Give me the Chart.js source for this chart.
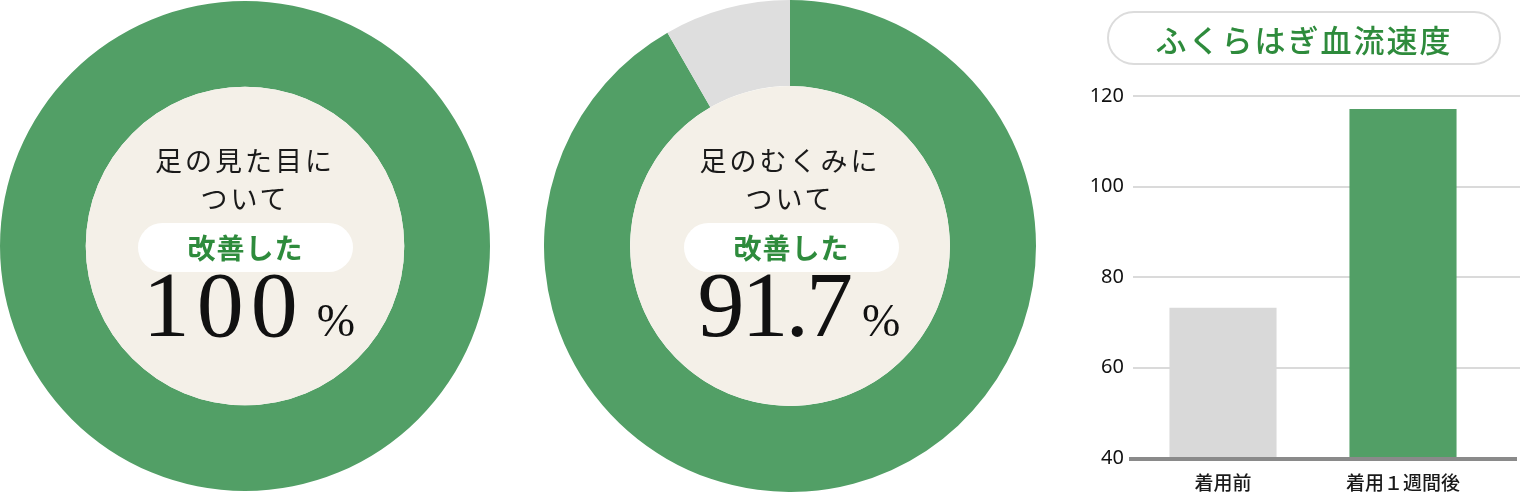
<!DOCTYPE html>
<html lang="ja">
<head>
  <meta charset="UTF-8">
  <title>改善データ</title>
  <script src="https://cdn.jsdelivr.net/npm/chart.js"></script>
  <style>
    html, body { margin: 0; padding: 0; background: #fff; }
    body { position: relative; width: 1520px; height: 493px; overflow: hidden; }
    canvas { position: absolute; }
    .center { position: absolute; text-align: center; color: #1a1a1a; }
    .line { position: absolute; left: 0; right: 0; font-family: "Noto Sans CJK JP", sans-serif; font-weight: 400; font-size: 27px; letter-spacing: 3px; line-height: 30px; }
    .pill { position: absolute; background: #fff; border-radius: 25px; height: 49px; width: 215px; line-height: 49px;
            color: #2e8b3c; font-family: "Noto Sans CJK JP", sans-serif; font-weight: 700; font-size: 28px; letter-spacing: 1px; }
    .num { position: absolute; left: 0; right: 0; font-family: "Liberation Serif", serif; white-space: nowrap; color: #111; }
    .num .big { font-size: 94px; }
    .num .pct { font-size: 46px; margin-left: 12px; }
    #title { position: absolute; left: 1107px; top: 11px; width: 390px; height: 50px; border: 2px solid #dcdcdc; border-radius: 27px;
             text-align: center; line-height: 52px; color: #2e8b3c; font-family: "Noto Sans CJK JP", sans-serif; font-weight: 500; font-size: 31px; letter-spacing: 2px; }
  </style>
</head>
<body>
  <canvas id="donut1" width="490" height="492" style="left:0;top:0"></canvas>
  <canvas id="donut2" width="492" height="492" style="left:544px;top:0"></canvas>
  <canvas id="bars" width="440" height="493" style="left:1080px;top:0"></canvas>

  <div class="center" style="left:0;top:0;width:490px;height:492px">
    <div class="line" style="top:145px">足の見た目に</div>
    <div class="line" style="top:183px">ついて</div>
    <div class="pill" style="left:138px;top:223px">改善した</div>
    <div class="num" style="top:250px;left:8px"><span class="big" style="letter-spacing:7px">100</span><span class="pct">%</span></div>
  </div>
  <div class="center" style="left:544px;top:0;width:492px;height:492px">
    <div class="line" style="top:145px">足のむくみに</div>
    <div class="line" style="top:183px">ついて</div>
    <div class="pill" style="left:140px;top:223px">改善した</div>
    <div class="num" style="top:250px;left:18px"><span class="big" style="letter-spacing:-3px">91.7</span><span class="pct">%</span></div>
  </div>
  <div id="title">ふくらはぎ血流速度</div>

  <script>
    // donut values (improved / not improved)
    const lookValues = [100, 0];
    const swellValues = [91.7, 8.3];
    const donutLabels = ['改善した', 'その他'];

    // bar chart data
    const barLabels = ['着用前', '着用１週間後'];
    const flowValues = [73.2, 117.1];
    const yTicks = [40, 60, 80, 100, 120];

    const green = '#529f66';
    const beige = '#f4f0e8';

    // fill the doughnut hole
    const holeFill = {
      id: 'holeFill',
      afterDatasetsDraw(chart) {
        const arc = chart.getDatasetMeta(0).data[0];
        const c = chart.ctx;
        c.save();
        c.beginPath();
        c.arc(arc.x, arc.y, arc.innerRadius, 0, Math.PI * 2);
        c.fillStyle = beige;
        c.fill();
        c.restore();
      }
    };

    function makeDonut(id, values) {
      return new Chart(document.getElementById(id), {
        type: 'doughnut',
        data: {
          labels: donutLabels,
          datasets: [{
            data: values,
            backgroundColor: [green, '#dedede'],
            borderWidth: 0
          }]
        },
        options: {
          responsive: false,
          animation: false,
          cutout: '65%',
          plugins: { legend: { display: false }, tooltip: { enabled: false } }
        },
        plugins: [holeFill]
      });
    }

    makeDonut('donut1', lookValues);
    makeDonut('donut2', swellValues);

    // grid lines run to the right edge, thick base line
    const barDecor = {
      id: 'barDecor',
      beforeDatasetsDraw(chart) {
        const y = chart.scales.y;
        const c = chart.ctx;
        c.save();
        c.strokeStyle = '#dadada';
        c.lineWidth = 2;
        y.ticks.forEach(t => {
          if (t.value === yTicks[0]) return;
          const py = Math.round(y.getPixelForValue(t.value));
          c.beginPath();
          c.moveTo(chart.chartArea.left, py);
          c.lineTo(chart.width, py);
          c.stroke();
        });
        c.restore();
      },
      afterDatasetsDraw(chart) {
        const y = chart.scales.y;
        const c = chart.ctx;
        const py = y.getPixelForValue(yTicks[0]) + 1;
        c.save();
        c.strokeStyle = '#8a8a8a';
        c.lineWidth = 4;
        c.beginPath();
        c.moveTo(chart.chartArea.left - 4, py);
        c.lineTo(chart.width - 3, py);
        c.stroke();
        c.restore();
      }
    };

    new Chart(document.getElementById('bars'), {
      type: 'bar',
      data: {
        labels: barLabels,
        datasets: [{
          data: flowValues,
          backgroundColor: ['#d9d9d9', green],
          borderWidth: 0,
          categoryPercentage: 1,
          barPercentage: 0.595
        }]
      },
      options: {
        responsive: false,
        animation: false,
        layout: { padding: { top: 96, left: 0, right: 27, bottom: 0 } },
        plugins: { legend: { display: false }, tooltip: { enabled: false } },
        scales: {
          x: {
            afterFit(scale) { scale.height = 35; },
            grid: { display: false, drawTicks: false },
            border: { display: false },
            ticks: { color: '#1a1a1a', padding: 13, maxRotation: 0, font: { family: '"Noto Sans CJK JP", sans-serif', size: 19, weight: '500' } }
          },
          y: {
            min: 40,
            max: 120,
            afterFit(scale) { scale.width = 53; },
            afterBuildTicks(scale) { scale.ticks = yTicks.map(v => ({ value: v })); },
            grid: { display: false, drawTicks: false },
            border: { display: false },
            ticks: { color: '#111', padding: 9, font: { family: '"Noto Sans", sans-serif', size: 20 } }
          }
        }
      },
      plugins: [barDecor]
    });
  </script>
</body>
</html>
